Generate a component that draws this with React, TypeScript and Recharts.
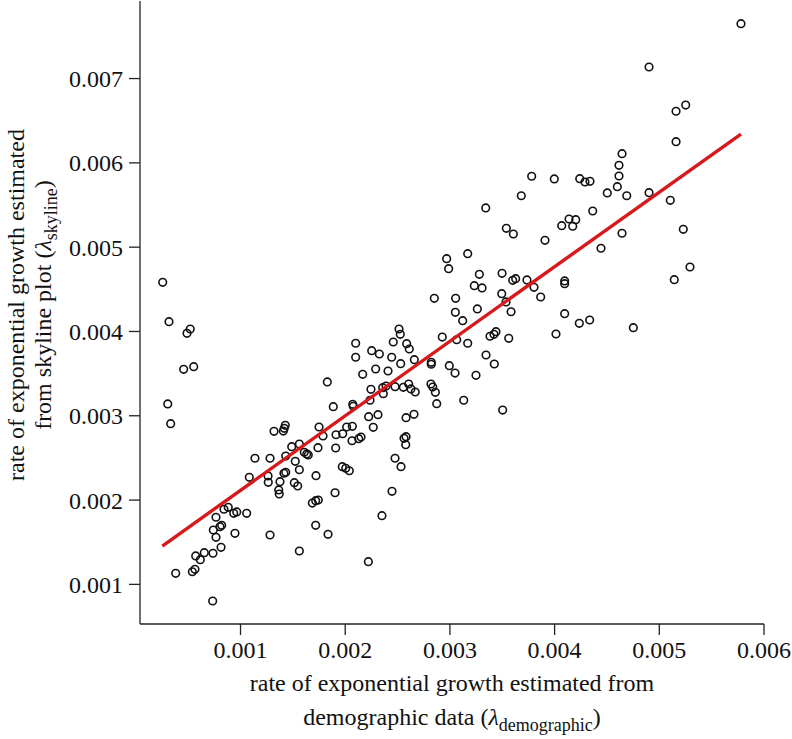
import React from 'react';
import { ScatterChart, Scatter, XAxis, YAxis } from 'recharts';

const xTicks = [0.001, 0.002, 0.003, 0.004, 0.005, 0.006];
const yTicks = [0.001, 0.002, 0.003, 0.004, 0.005, 0.006, 0.007];

const lambdaDemographic = [
  0.000257, 0.000317, 0.000489, 0.000520, 0.000457, 0.000553, 0.000305, 0.000333, 0.001829, 0.001886,
  0.002100, 0.002100, 0.002253, 0.002326, 0.002444, 0.002459, 0.002514, 0.002167, 0.002291, 0.002409,
  0.002246, 0.002358, 0.002390, 0.002476, 0.002364, 0.002237, 0.002072, 0.002077, 0.002224, 0.002313,
  0.002268, 0.001750, 0.001788, 0.001912, 0.001976, 0.002014, 0.002068, 0.001909, 0.002065, 0.002129,
  0.002151, 0.001320, 0.001418, 0.001428, 0.001409, 0.001489, 0.001562, 0.001432, 0.001523, 0.001609,
  0.001632, 0.001647, 0.001740, 0.001562, 0.001415, 0.001432, 0.001377, 0.001365, 0.001370, 0.001514,
  0.001546, 0.001138, 0.001282, 0.001084, 0.001263, 0.001265, 0.001721, 0.001686, 0.001718, 0.001743,
  0.001903, 0.001972, 0.002005, 0.002039, 0.002476, 0.002533, 0.002447, 0.002351, 0.002221, 0.001718,
  0.001836, 0.001562, 0.001282, 0.001059, 0.000842, 0.000883, 0.000935, 0.000964, 0.000766, 0.000740,
  0.000804, 0.000820, 0.000766, 0.000947, 0.000814, 0.000737, 0.000654, 0.000572, 0.000616, 0.000540,
  0.000565, 0.000381, 0.000734, 0.003342, 0.003539, 0.003606, 0.003908, 0.003170, 0.002969, 0.002988,
  0.003281, 0.003233, 0.003307, 0.003498, 0.003600, 0.003628, 0.003736, 0.003803, 0.003867, 0.003495,
  0.003536, 0.003584, 0.002851, 0.003055, 0.003262, 0.003052, 0.003122, 0.002526, 0.002927, 0.003065,
  0.003170, 0.003383, 0.003421, 0.003440, 0.003562, 0.003345, 0.003424, 0.003249, 0.002587, 0.002612,
  0.002530, 0.002660, 0.002822, 0.002822, 0.002994, 0.003049, 0.002819, 0.002836, 0.002861, 0.002606,
  0.002628, 0.002669, 0.002555, 0.002874, 0.003132, 0.003504, 0.002581, 0.002657, 0.002562, 0.002581,
  0.002578, 0.004068, 0.004138, 0.004173, 0.004202, 0.004364, 0.004644, 0.004443, 0.005229, 0.005293,
  0.005143, 0.004096, 0.004096, 0.004096, 0.004236, 0.004335, 0.004752, 0.004013, 0.005780, 0.004902,
  0.005160, 0.005252, 0.005160, 0.004644, 0.004615, 0.004615, 0.004599, 0.004503, 0.004689, 0.004902,
  0.005105, 0.003781, 0.003997, 0.004240, 0.004290, 0.004338, 0.003682,
];

const lambdaSkyline = [
  0.004583, 0.004116, 0.003978, 0.004029, 0.003551, 0.003582, 0.003140, 0.002906, 0.003401, 0.003108,
  0.003860, 0.003694, 0.003772, 0.003733, 0.003694, 0.003875, 0.004029, 0.003492, 0.003555, 0.003531,
  0.003314, 0.003333, 0.003353, 0.003345, 0.003262, 0.003184, 0.003136, 0.003112, 0.002989, 0.003013,
  0.002863, 0.002867, 0.002760, 0.002775, 0.002787, 0.002867, 0.002875, 0.002618, 0.002704, 0.002728,
  0.002748, 0.002816, 0.002851, 0.002887, 0.002819, 0.002633, 0.002665, 0.002523, 0.002460, 0.002567,
  0.002547, 0.002535, 0.002621, 0.002360, 0.002318, 0.002329, 0.002218, 0.002120, 0.002072, 0.002206,
  0.002167, 0.002496, 0.002496, 0.002270, 0.002286, 0.002211, 0.002289, 0.001965, 0.001993, 0.002001,
  0.002087, 0.002396, 0.002377, 0.002348, 0.002496, 0.002396, 0.002104, 0.001815, 0.001269, 0.001701,
  0.001594, 0.001396, 0.001586, 0.001843, 0.001891, 0.001914, 0.001843, 0.001859, 0.001796, 0.001645,
  0.001684, 0.001701, 0.001558, 0.001606, 0.001440, 0.001369, 0.001376, 0.001337, 0.001293, 0.001150,
  0.001179, 0.001131, 0.000803, 0.005465, 0.005224, 0.005156, 0.005081, 0.004923, 0.004863, 0.004745,
  0.004678, 0.004543, 0.004516, 0.004690, 0.004607, 0.004626, 0.004611, 0.004524, 0.004409, 0.004448,
  0.004350, 0.004234, 0.004393, 0.004393, 0.004267, 0.004227, 0.004128, 0.003966, 0.003934, 0.003902,
  0.003860, 0.003943, 0.003966, 0.003997, 0.003919, 0.003721, 0.003614, 0.003480, 0.003855, 0.003792,
  0.003618, 0.003665, 0.003634, 0.003611, 0.003594, 0.003507, 0.003377, 0.003341, 0.003278, 0.003377,
  0.003318, 0.003282, 0.003338, 0.003143, 0.003184, 0.003068, 0.002977, 0.003017, 0.002733, 0.002752,
  0.002657, 0.005255, 0.005334, 0.005248, 0.005326, 0.005429, 0.005165, 0.004987, 0.005212, 0.004765,
  0.004614, 0.004599, 0.004567, 0.004211, 0.004097, 0.004136, 0.004045, 0.003970, 0.007651, 0.007137,
  0.006612, 0.006686, 0.006251, 0.006109, 0.005971, 0.005844, 0.005717, 0.005643, 0.005610, 0.005646,
  0.005556, 0.005841, 0.005809, 0.005812, 0.005773, 0.005781, 0.005610,
];

const fitX = [0.000253, 0.00578];
const fitY = [0.001455, 0.006342];

const points = lambdaDemographic.map((x, i) => ({ x, y: lambdaSkyline[i] }));
const fitLine = fitX.map((x, i) => ({ x, y: fitY[i] }));

const FONT = '"Liberation Serif", "Times New Roman", serif';

const Ring = (props: any) => {
  const { cx, cy } = props;
  if (cx == null || cy == null) return <g />;
  return <circle cx={cx} cy={cy} r={3.8} fill="none" stroke="#111" strokeWidth={1.6} />;
};

const NoShape = () => <g />;

const fmt = (v: number) => v.toFixed(3);

export default function App() {
  const tickStyle = { fontFamily: FONT, fontSize: 24, fill: '#111' };
  return (
    <div style={{ position: 'absolute', left: 0, top: 0, width: 792, height: 739, background: '#fff' }}>
      <ScatterChart width={792} height={739} margin={{ top: 1, right: 28, bottom: 0, left: 0 }}>
        <XAxis
          type="number"
          dataKey="x"
          domain={[0.00004, 0.006]}
          allowDataOverflow
          ticks={xTicks}
          tickFormatter={fmt}
          height={115}
          tick={tickStyle}
          tickSize={11}
          tickMargin={6}
          stroke="#222"
          strokeWidth={1.3}
          tickLine={{ stroke: '#222', strokeWidth: 1.3 }}
        />
        <YAxis
          type="number"
          dataKey="y"
          domain={[0.00053, 0.00792]}
          allowDataOverflow
          ticks={yTicks}
          tickFormatter={fmt}
          width={140}
          tick={tickStyle}
          tickSize={11}
          tickMargin={6}
          stroke="#222"
          strokeWidth={1.3}
          tickLine={{ stroke: '#222', strokeWidth: 1.3 }}
        />
        <Scatter data={points} shape={Ring} isAnimationActive={false} />
        <Scatter
          data={fitLine}
          shape={NoShape}
          line={{ stroke: '#d7191c', strokeWidth: 3.4 }}
          lineType="joint"
          isAnimationActive={false}
        />
      </ScatterChart>
      <svg
        width={792}
        height={739}
        style={{ position: 'absolute', left: 0, top: 0, pointerEvents: 'none' }}
      >
        <g fontFamily={FONT} fontSize={24} fill="#111" textAnchor="middle">
          <text x={452} y={683} dy="0.35em">rate of exponential growth estimated from</text>
          <text x={452} y={717} dy="0.35em">
            demographic data (<tspan fontStyle="italic">λ</tspan>
            <tspan dy="6" fontSize={18}>demographic</tspan>
            <tspan dy="-6">)</tspan>
          </text>
          <text x={16} y={305} dy="0.35em" transform="rotate(-90 16 305)">
            rate of exponential growth estimated
          </text>
          <text x={43} y={305} dy="0.35em" transform="rotate(-90 43 305)">
            from skyline plot (<tspan fontStyle="italic">λ</tspan>
            <tspan dy="6" fontSize={18}>skyline</tspan>
            <tspan dy="-6">)</tspan>
          </text>
        </g>
      </svg>
    </div>
  );
}
